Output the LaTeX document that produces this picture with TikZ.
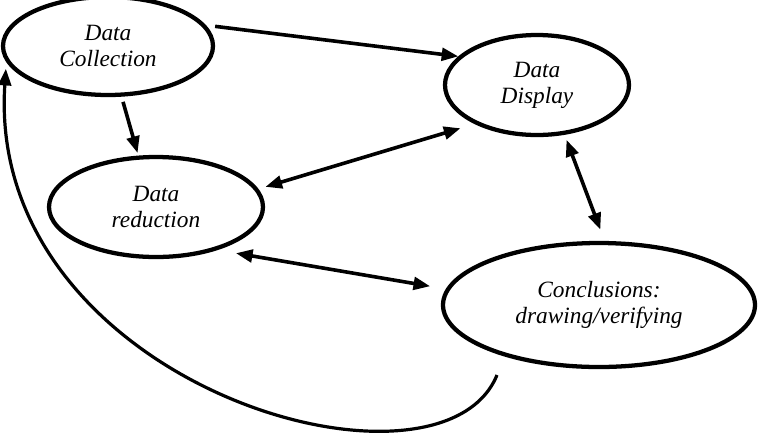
\documentclass[tikz,border=0pt]{standalone}
\usepackage{fontspec}
\setmainfont{Liberation Serif}
\usetikzlibrary{arrows.meta, shapes.geometric}

\begin{document}
\begin{tikzpicture}[x=0.75pt, y=-0.75pt, >={Triangle[length=12.5pt, width=9.5pt]},
    stage/.style={ellipse, draw, line width=3.2pt, inner sep=0pt, align=center,
        font=\fontsize{17.5}{19.5}\selectfont\itshape},
    flow/.style={->, line width=2.7pt},
    twoway/.style={<->, line width=2.7pt}]
    \useasboundingbox (0,0) rectangle (760,444);

    % the four stages
    \node[stage, minimum width=157.5pt, minimum height=73.5pt] (coll) at (108,46) {Data\\Collection};
    \node[stage, minimum width=138pt, minimum height=75pt] (disp) at (537,85) {Data\\Display};
    \node[stage, minimum width=160.5pt, minimum height=75pt] (red) at (156,207) {Data\\reduction};
    \node[stage, minimum width=234pt, minimum height=93pt] (concl) at (599,305) {Conclusions:\\drawing/verifying};

    % links
    \draw[flow, shorten <=7pt] (coll.12) -- (disp.160);
    \draw[flow, shorten <=4pt, shorten >=2pt] (coll.285) -- (red.109);
    \draw[twoway, shorten <=11pt, shorten >=5.5pt] (disp.212) -- (red.10);
    \draw[twoway, shorten <=14pt, shorten >=12pt] (red.325) -- (concl.174);
    \draw[twoway, shorten <=4pt, shorten >=9pt] (disp.299) -- (concl.85);

    % back to the start
    \coordinate (loopstart) at (497,375);
    \draw[flow, line width=2.4pt, shorten >=5pt] (loopstart) .. controls (440,515) and (-15,385) .. (coll.189);
\end{tikzpicture}
\end{document}
